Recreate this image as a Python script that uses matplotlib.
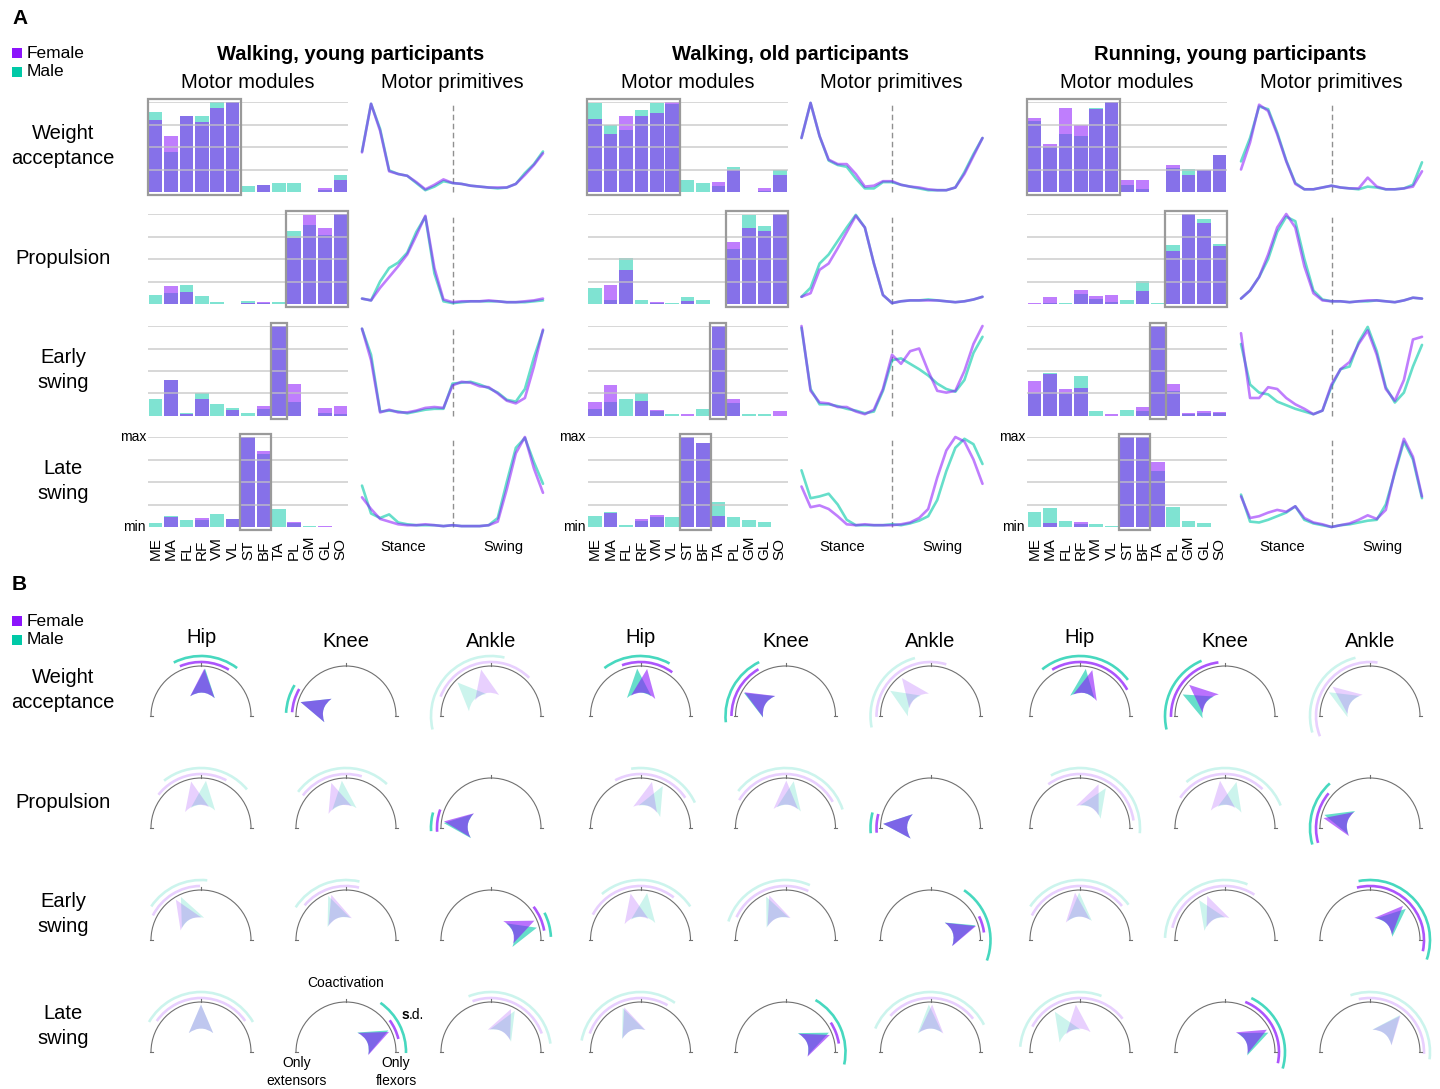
import numpy as np
import matplotlib
matplotlib.use("Agg")
import matplotlib.pyplot as plt
from matplotlib.patches import Rectangle, Arc, PathPatch
from matplotlib.path import Path

plt.rcParams['font.family'] = ['Liberation Sans', 'DejaVu Sans']

# ---------------- data ----------------
groups = ["Walking, young participants", "Walking, old participants", "Running, young participants"]
synergies = ["Weight\nacceptance", "Propulsion", "Early\nswing", "Late\nswing"]
muscles = ["ME", "MA", "FL", "RF", "VM", "VL", "ST", "BF", "TA", "PL", "GM", "GL", "SO"]
joints = ["Hip", "Knee", "Ankle"]

# motor modules (normalised weights), one row per synergy
young_walk_mod_f = [
    [0.80, 0.62, 0.85, 0.78, 0.93, 1.00, 0.00, 0.08, 0.00, 0.00, 0.00, 0.05, 0.13],
    [0.00, 0.20, 0.13, 0.00, 0.00, 0.00, 0.01, 0.025, 0.00, 0.73, 0.99, 0.85, 1.00],
    [0.00, 0.40, 0.02, 0.185, 0.00, 0.07, 0.00, 0.11, 1.00, 0.35, 0.00, 0.09, 0.11],
    [0.00, 0.11, 0.00, 0.10, 0.00, 0.09, 1.00, 0.845, 0.00, 0.06, 0.00, 0.015, 0.00],
]
young_walk_mod_m = [
    [0.89, 0.45, 0.84, 0.84, 1.00, 1.00, 0.07, 0.08, 0.10, 0.10, 0.00, 0.02, 0.19],
    [0.10, 0.12, 0.21, 0.09, 0.02, 0.00, 0.03, 0.01, 0.02, 0.81, 0.88, 0.77, 1.00],
    [0.185, 0.40, 0.03, 0.25, 0.13, 0.09, 0.03, 0.08, 1.00, 0.16, 0.00, 0.03, 0.025],
    [0.05, 0.125, 0.075, 0.075, 0.14, 0.09, 1.00, 0.81, 0.20, 0.045, 0.01, 0.00, 0.00],
]
old_walk_mod_f = [
    [0.81, 0.65, 0.84, 0.85, 0.88, 1.00, 0.00, 0.00, 0.11, 0.25, 0.00, 0.04, 0.19],
    [0.00, 0.21, 0.38, 0.00, 0.025, 0.00, 0.03, 0.00, 0.00, 0.685, 0.85, 0.81, 1.00],
    [0.16, 0.34, 0.00, 0.165, 0.065, 0.00, 0.02, 0.00, 1.00, 0.19, 0.00, 0.00, 0.05],
    [0.00, 0.16, 0.00, 0.085, 0.135, 0.00, 1.00, 0.93, 0.125, 0.00, 0.00, 0.00, 0.00],
]
old_walk_mod_m = [
    [0.99, 0.74, 0.69, 0.91, 0.99, 0.98, 0.13, 0.095, 0.07, 0.28, 0.00, 0.015, 0.24],
    [0.18, 0.045, 0.51, 0.05, 0.015, 0.01, 0.08, 0.045, 0.00, 0.61, 0.99, 0.87, 1.00],
    [0.08, 0.155, 0.19, 0.25, 0.06, 0.02, 0.00, 0.075, 1.00, 0.14, 0.02, 0.02, 0.00],
    [0.12, 0.17, 0.02, 0.07, 0.11, 0.11, 1.00, 0.93, 0.275, 0.11, 0.08, 0.055, 0.00],
]
young_run_mod_f = [
    [0.82, 0.535, 0.93, 0.75, 0.925, 1.00, 0.13, 0.13, 0.00, 0.30, 0.19, 0.25, 0.41],
    [0.015, 0.08, 0.00, 0.16, 0.09, 0.095, 0.00, 0.15, 0.00, 0.59, 1.00, 0.905, 0.65],
    [0.39, 0.465, 0.30, 0.31, 0.00, 0.02, 0.00, 0.095, 1.00, 0.355, 0.035, 0.05, 0.045],
    [0.00, 0.05, 0.00, 0.06, 0.00, 0.00, 1.00, 1.00, 0.72, 0.00, 0.00, 0.00, 0.00],
]
young_run_mod_m = [
    [0.785, 0.505, 0.645, 0.62, 0.93, 1.00, 0.08, 0.03, 0.00, 0.27, 0.26, 0.25, 0.41],
    [0.00, 0.01, 0.01, 0.11, 0.055, 0.025, 0.045, 0.255, 0.01, 0.655, 1.00, 0.94, 0.665],
    [0.25, 0.475, 0.25, 0.445, 0.05, 0.00, 0.065, 0.06, 1.00, 0.28, 0.02, 0.03, 0.03],
    [0.17, 0.21, 0.07, 0.035, 0.035, 0.01, 1.00, 1.00, 0.62, 0.22, 0.07, 0.05, 0.00],
]
# muscles framed in each synergy (first, last index)
highlight = [(0, 5), (9, 12), (8, 8), (6, 7)]

# motor primitives, sampled every 5 % of the gait cycle (stance 0-50, swing 50-100)
cycle_pct = [0, 5, 10, 15, 20, 25, 30, 35, 40, 45, 50, 55, 60, 65, 70, 75, 80, 85, 90, 95, 100]
young_walk_prim_f = [
    [0.44, 0.98, 0.68, 0.23, 0.20, 0.18, 0.11, 0.03, 0.08, 0.14, 0.10, 0.09, 0.07, 0.06, 0.05, 0.05, 0.05, 0.09, 0.19, 0.30, 0.43],
    [0.06, 0.04, 0.18, 0.30, 0.42, 0.55, 0.76, 0.98, 0.40, 0.05, 0.02, 0.03, 0.03, 0.03, 0.04, 0.03, 0.02, 0.02, 0.03, 0.04, 0.06],
    [0.97, 0.62, 0.04, 0.07, 0.04, 0.04, 0.06, 0.09, 0.10, 0.09, 0.34, 0.38, 0.37, 0.33, 0.32, 0.25, 0.17, 0.14, 0.20, 0.55, 0.96],
    [0.33, 0.20, 0.09, 0.06, 0.03, 0.02, 0.02, 0.03, 0.02, 0.01, 0.02, 0.01, 0.01, 0.01, 0.02, 0.06, 0.42, 0.82, 1.00, 0.65, 0.38],
]
young_walk_prim_m = [
    [0.45, 0.98, 0.70, 0.24, 0.20, 0.18, 0.10, 0.02, 0.06, 0.12, 0.10, 0.09, 0.07, 0.06, 0.05, 0.04, 0.05, 0.09, 0.21, 0.31, 0.45],
    [0.06, 0.04, 0.25, 0.40, 0.46, 0.57, 0.80, 0.97, 0.34, 0.03, 0.01, 0.02, 0.03, 0.03, 0.03, 0.03, 0.02, 0.02, 0.02, 0.03, 0.04],
    [0.97, 0.68, 0.05, 0.06, 0.05, 0.03, 0.05, 0.07, 0.08, 0.08, 0.36, 0.37, 0.38, 0.35, 0.31, 0.26, 0.18, 0.16, 0.30, 0.65, 0.95],
    [0.46, 0.15, 0.10, 0.14, 0.05, 0.03, 0.02, 0.02, 0.02, 0.01, 0.02, 0.01, 0.01, 0.01, 0.02, 0.10, 0.50, 0.88, 0.99, 0.72, 0.48],
]
old_walk_prim_f = [
    [0.60, 0.99, 0.62, 0.36, 0.31, 0.31, 0.20, 0.06, 0.07, 0.12, 0.12, 0.08, 0.06, 0.05, 0.03, 0.02, 0.02, 0.05, 0.20, 0.40, 0.60],
    [0.08, 0.12, 0.38, 0.45, 0.62, 0.80, 0.98, 0.85, 0.45, 0.10, 0.01, 0.03, 0.04, 0.04, 0.04, 0.04, 0.03, 0.02, 0.03, 0.05, 0.08],
    [1.00, 0.28, 0.15, 0.14, 0.10, 0.10, 0.05, 0.02, 0.07, 0.30, 0.68, 0.58, 0.72, 0.75, 0.50, 0.28, 0.26, 0.28, 0.50, 0.80, 1.00],
    [0.45, 0.22, 0.24, 0.20, 0.12, 0.03, 0.02, 0.03, 0.02, 0.02, 0.02, 0.03, 0.05, 0.10, 0.20, 0.55, 0.85, 1.00, 0.95, 0.75, 0.48],
]
old_walk_prim_m = [
    [0.60, 0.99, 0.62, 0.35, 0.30, 0.28, 0.15, 0.04, 0.04, 0.11, 0.11, 0.08, 0.06, 0.04, 0.02, 0.02, 0.02, 0.05, 0.22, 0.42, 0.60],
    [0.08, 0.18, 0.45, 0.55, 0.70, 0.85, 0.99, 0.85, 0.45, 0.10, 0.01, 0.03, 0.04, 0.04, 0.05, 0.04, 0.03, 0.02, 0.03, 0.05, 0.08],
    [0.98, 0.30, 0.13, 0.13, 0.11, 0.08, 0.06, 0.03, 0.05, 0.28, 0.62, 0.64, 0.58, 0.52, 0.45, 0.36, 0.30, 0.27, 0.40, 0.70, 0.88],
    [0.63, 0.32, 0.34, 0.37, 0.25, 0.08, 0.02, 0.02, 0.02, 0.02, 0.03, 0.02, 0.04, 0.07, 0.12, 0.30, 0.62, 0.88, 0.98, 0.92, 0.70],
]
young_run_prim_f = [
    [0.25, 0.55, 0.97, 0.90, 0.64, 0.34, 0.09, 0.03, 0.03, 0.05, 0.07, 0.05, 0.04, 0.04, 0.16, 0.06, 0.03, 0.03, 0.04, 0.06, 0.23],
    [0.06, 0.15, 0.30, 0.55, 0.85, 1.00, 0.85, 0.42, 0.12, 0.04, 0.03, 0.03, 0.02, 0.03, 0.04, 0.04, 0.03, 0.02, 0.04, 0.07, 0.06],
    [0.92, 0.20, 0.20, 0.32, 0.30, 0.20, 0.13, 0.08, 0.02, 0.06, 0.35, 0.52, 0.60, 0.80, 0.95, 0.68, 0.30, 0.17, 0.40, 0.85, 0.88],
    [0.34, 0.10, 0.12, 0.16, 0.19, 0.17, 0.23, 0.10, 0.05, 0.03, 0.00, 0.02, 0.04, 0.08, 0.13, 0.09, 0.19, 0.62, 0.98, 0.78, 0.34],
]
young_run_prim_m = [
    [0.34, 0.60, 0.95, 0.92, 0.66, 0.35, 0.10, 0.03, 0.03, 0.05, 0.07, 0.05, 0.04, 0.03, 0.06, 0.05, 0.03, 0.03, 0.04, 0.08, 0.33],
    [0.06, 0.15, 0.30, 0.50, 0.80, 0.97, 0.92, 0.50, 0.15, 0.05, 0.03, 0.03, 0.02, 0.03, 0.03, 0.04, 0.03, 0.02, 0.04, 0.07, 0.06],
    [0.80, 0.35, 0.26, 0.24, 0.16, 0.12, 0.08, 0.05, 0.02, 0.06, 0.33, 0.52, 0.55, 0.82, 0.99, 0.72, 0.32, 0.15, 0.26, 0.55, 0.79],
    [0.36, 0.06, 0.05, 0.08, 0.12, 0.16, 0.23, 0.08, 0.04, 0.02, 0.00, 0.02, 0.03, 0.05, 0.07, 0.08, 0.25, 0.60, 0.95, 0.75, 0.32],
]

# flexor/extensor balance per joint: 0 = only extensors, 90 = coactivation, 180 = only flexors
# rows: synergies, columns: hip, knee, ankle
young_walk_ang_f = [[94, 17, 78], [78, 72, 8], [58, 72, 156], [90, 155, 115]]
young_walk_sd_f = [[27, 13, 57], [40, 35, 12], [31, 32, 14], [55, 11, 45]]
young_walk_ang_m = [[95, 17, 45], [96, 85, 6], [65, 68, 165], [90, 153, 120]]
young_walk_sd_m = [[32, 14, 58], [44, 48, 9], [31, 35, 12], [60, 28, 52]]
old_walk_ang_f = [[98, 30, 53], [104, 91, 5], [78, 70, 163], [70, 159, 92]]
old_walk_sd_f = [[28, 30, 54], [42, 60, 10], [50, 45, 9], [50, 12, 50]]
old_walk_ang_m = [[86, 29, 32], [118, 100, 5], [98, 66, 162], [68, 156, 88]]
old_walk_sd_m = [[33, 35, 43], [37, 62, 10], [48, 48, 38], [57, 36, 65]]
young_run_ang_f = [[105, 41, 38], [113, 84, 12], [84, 68, 134], [85, 152, 130]]
young_run_sd_f = [[46, 42, 60], [59, 50, 28], [57, 55, 58], [57, 40, 52]]
young_run_ang_m = [[97, 27, 30], [123, 104, 16], [89, 57, 139], [58, 156, 129]]
young_run_sd_m = [[46, 40, 46], [62, 54, 32], [55, 55, 60], [53, 40, 58]]
# joints whose synergy clearly loads on the joint (drawn opaque)
salient = [[1, 1, 0], [0, 0, 1], [0, 0, 1], [0, 1, 0]]

mod_f = [young_walk_mod_f, old_walk_mod_f, young_run_mod_f]
mod_m = [young_walk_mod_m, old_walk_mod_m, young_run_mod_m]
prim_f = [young_walk_prim_f, old_walk_prim_f, young_run_prim_f]
prim_m = [young_walk_prim_m, old_walk_prim_m, young_run_prim_m]
ang_f = [young_walk_ang_f, old_walk_ang_f, young_run_ang_f]
sd_f = [young_walk_sd_f, old_walk_sd_f, young_run_sd_f]
ang_m = [young_walk_ang_m, old_walk_ang_m, young_run_ang_m]
sd_m = [young_walk_sd_m, old_walk_sd_m, young_run_sd_m]

# ---------------- figure ----------------
FEMALE = '#8C14FC'
MALE = '#00C9A7'
W, H = 1440, 1089
fig = plt.figure(figsize=(W / 100, H / 100), dpi=100)


def box(x0, y0, x1, y1):
    # axes from a pixel box measured from the top-left corner
    return fig.add_axes([x0 / W, 1 - y1 / H, (x1 - x0) / W, (y1 - y0) / H])


page = box(0, 0, W, H)
page.set_xlim(0, W)
page.set_ylim(H, 0)
page.axis('off')


def legend(y):
    for k, (lab, col) in enumerate((("Female", FEMALE), ("Male", MALE))):
        yy = y + 19 * k
        page.add_patch(Rectangle((12, yy - 5), 10, 10, color=col, lw=0))
        page.text(27, yy, lab, fontsize=12.5, va='center')


# ---- panel A ----
page.text(12, 18, "A", fontsize=15, fontweight='bold', va='center')
legend(53)
row_top = [102, 214, 326, 437]
row_h = 90
for r, name in enumerate(synergies):
    page.text(63, row_top[r] + 44, name, fontsize=14.5, ha='center', va='center',
              linespacing=1.35)

for g, title in enumerate(groups):
    gx = 439.5 * g
    page.text(351 + gx, 55, title, fontsize=14.5, fontweight='bold', ha='center', va='center')
    page.text(248 + gx, 82, "Motor modules", fontsize=14.5, ha='center', va='center')
    page.text(452 + gx, 82, "Motor primitives", fontsize=14.5, ha='center', va='center')
    page.text(146 + gx, 437, "max", fontsize=10, ha='right', va='center')
    page.text(146 + gx, 527, "min", fontsize=10, ha='right', va='center')
    page.text(403 + gx, 547, "Stance", fontsize=10.5, ha='center', va='center')
    page.text(503 + gx, 547, "Swing", fontsize=10.5, ha='center', va='center')

    for r in range(4):
        top = row_top[r]
        ax = box(148 + gx, top, 348 + gx, top + row_h)
        xi = np.arange(len(muscles))
        ax.bar(xi, mod_m[g][r], width=0.88, color=MALE, alpha=0.5, lw=0, zorder=1)
        ax.bar(xi, mod_f[g][r], width=0.88, color=FEMALE, alpha=0.55, lw=0, zorder=2)
        for yv in (0.25, 0.5, 0.75, 1.0):
            ax.axhline(yv, color='#c4c4c4', lw=1.1, alpha=0.85, zorder=3)
        i0, i1 = highlight[r]
        ax.add_patch(Rectangle((i0 - 0.52, -0.03), i1 - i0 + 1.04, 1.06, fill=False,
                               edgecolor='#9a9a9a', lw=1.6, zorder=4, clip_on=False))
        ax.set_xlim(-0.5, len(muscles) - 0.5)
        ax.set_ylim(0, 1)
        ax.axis('off')
        if r == 3:
            for i, m in enumerate(muscles):
                ax.text(i, -0.37, m, transform=ax.get_xaxis_transform(), rotation=90,
                        rotation_mode='anchor', ha='left', va='center', fontsize=11)

        axp = box(362 + gx, top, 543 + gx, top + row_h)
        axp.plot(cycle_pct, prim_m[g][r], color=MALE, alpha=0.6, lw=1.9,
                 solid_joinstyle='round', solid_capstyle='round', zorder=2)
        axp.plot(cycle_pct, prim_f[g][r], color=FEMALE, alpha=0.55, lw=1.9,
                 solid_joinstyle='round', solid_capstyle='round', zorder=3)
        axp.axvline(50, color='#909090', ls=(0, (4, 2.5)), lw=1, zorder=1)
        axp.set_xlim(0, 100)
        axp.set_ylim(0, 1)
        axp.axis('off')
        for s in axp.lines:
            s.set_clip_on(False)

# ---- panel B ----
page.text(12, 584, "B", fontsize=15, fontweight='bold', va='center')
legend(621)
dial_base = [716, 828, 940, 1052]
for r, name in enumerate(synergies):
    page.text(63, dial_base[r] - 26, name, fontsize=14.5, ha='center', va='center',
              linespacing=1.35)


def dart(phi):
    p = np.radians(phi)
    w = np.radians(33)
    tip = (0.95 * np.cos(p), 0.95 * np.sin(p))
    c1 = (0.45 * np.cos(p + w), 0.45 * np.sin(p + w))
    c2 = (0.45 * np.cos(p - w), 0.45 * np.sin(p - w))
    ctl = (0.56 * np.cos(p), 0.56 * np.sin(p))
    verts = [tip, c1, ctl, c2, tip, tip]
    codes = [Path.MOVETO, Path.LINETO, Path.CURVE3, Path.CURVE3, Path.LINETO, Path.CLOSEPOLY]
    return Path(verts, codes)


def dial(ax, af, sf, am, sm, strong):
    ax.add_patch(Arc((0, 0), 2, 2, theta1=0, theta2=180, color='#707070', lw=0.8))
    ax.plot([0, 0], [1.0, 1.06], color='#707070', lw=0.8)
    for sx in (-1, 1):
        ax.plot([sx * 0.97, sx * 1.03], [0, 0], color='#707070', lw=0.8)
    a_arc = 0.72 if strong else 0.2
    a_dart = 0.6 if strong else 0.2
    for ang, sd, col, rad in ((am, sm, MALE, 1.2), (af, sf, FEMALE, 1.08)):
        phi = 180 - ang
        ax.add_patch(Arc((0, 0), 2 * rad, 2 * rad, theta1=phi - sd, theta2=phi + sd,
                         color=col, alpha=a_arc, lw=1.9, capstyle='butt'))
    for ang, col in ((am, MALE), (af, FEMALE)):
        ax.add_patch(PathPatch(dart(180 - ang), facecolor=col, edgecolor='none', alpha=a_dart))


for g in range(3):
    gx = 439.5 * g
    for j, joint in enumerate(joints):
        cx = 201 + gx + 145 * j
        page.text(cx, 643 if joint == "Hip" else 647, joint, fontsize=14.5,
                  ha='center', va='baseline')
        for r in range(4):
            by = dial_base[r]
            ax = box(cx - 65, by - 65, cx + 65, by + 40)
            ax.set_xlim(-1.3, 1.3)
            ax.set_ylim(-0.8, 1.3)
            ax.axis('off')
            dial(ax, ang_f[g][r][j], sd_f[g][r][j], ang_m[g][r][j], sd_m[g][r][j],
                 salient[r][j])

# reading guide on one dial
page.text(346, 983, "Coactivation", fontsize=10, ha='center', va='center')
page.text(409, 1015, "s", fontsize=10, fontweight='bold', ha='right', va='center')
page.text(409, 1015, ".d.", fontsize=10, ha='left', va='center')
page.text(297, 1072, "Only\nextensors", fontsize=10, ha='center', va='center', linespacing=1.3)
page.text(396, 1072, "Only\nflexors", fontsize=10, ha='center', va='center', linespacing=1.3)

fig.savefig("out.png", dpi=100)
